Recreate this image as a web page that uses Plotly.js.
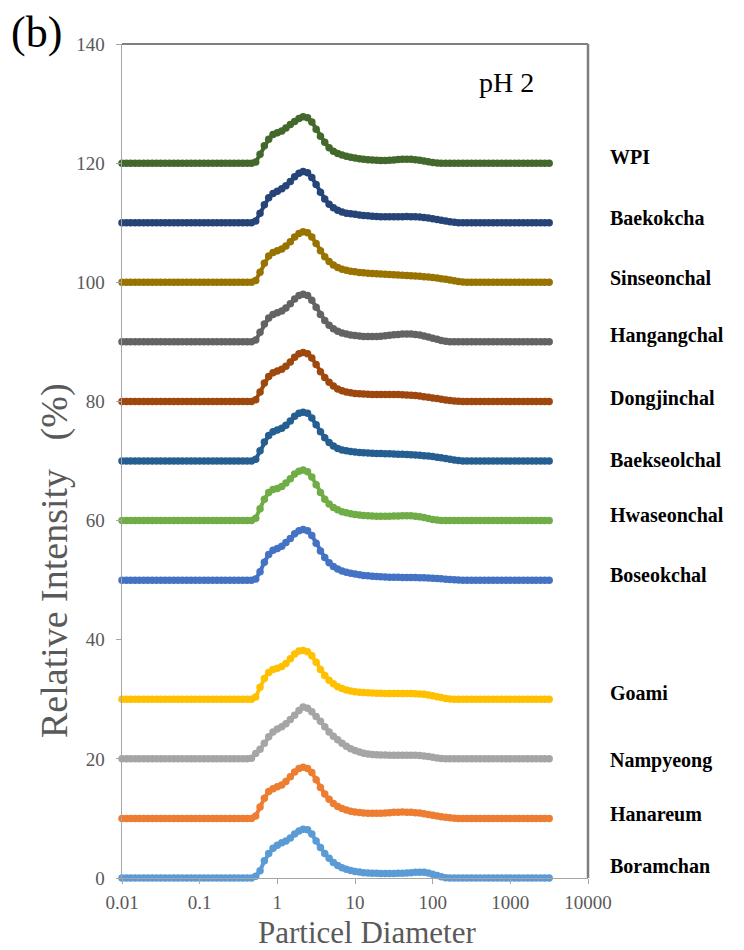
<!DOCTYPE html>
<html>
<head>
<meta charset="utf-8">
<script src="https://cdn.plot.ly/plotly-3.0.1.min.js"></script>
<style>html,body{margin:0;padding:0;background:#fff;}#chart{width:744px;height:950px;}</style>
</head>
<body>
<div id="chart"></div>
<script>
// Particle diameter grid (µm), 18 bins per decade from 0.01 to 3162
const diameter = [
  0.01,0.0114,0.0129,0.0147,0.0167,0.019,0.0215,0.0245,0.0278,0.0316,
  0.0359,0.0408,0.0464,0.0527,0.0599,0.0681,0.0774,0.088,0.1,0.114,
  0.129,0.147,0.167,0.19,0.215,0.245,0.278,0.316,0.359,0.408,
  0.464,0.527,0.599,0.681,0.774,0.88,1,1.14,1.29,1.47,
  1.67,1.9,2.15,2.45,2.78,3.16,3.59,4.08,4.64,5.27,
  5.99,6.81,7.74,8.8,10,11.4,12.9,14.7,16.7,19,
  21.5,24.5,27.8,31.6,35.9,40.8,46.4,52.7,59.9,68.1,
  77.4,88,100,114,129,147,167,190,215,245,
  278,316,359,408,464,527,599,681,774,880,
  1000,1140,1290,1470,1670,1900,2150,2450,2780,3162
];

const sampleNames = ["Boramchan","Hanareum","Nampyeong","Goami","Boseokchal","Hwaseonchal",
  "Baekseolchal","Dongjinchal","Hangangchal","Sinseonchal","Baekokcha","WPI"];
const sampleOffsets = [0,10,20,30,50,60,70,80,90,100,110,120];

const boramchan = [
  0,0,0,0,0,0,0,0,0,0, 0,0,0,0,0,0,0,0,0,0, 0,0,0,0,0,0,0,0,0,0,
  0,0.3,1.2,2.9,4.1,5.0,5.5,5.9,6.2,6.7,
  7.4,7.9,8.2,8.1,7.4,6.2,5.1,4.1,3.3,2.6,
  2.1,1.7,1.45,1.25,1.1,1.0,0.9,0.85,0.8,0.78,
  0.76,0.75,0.75,0.76,0.78,0.8,0.85,0.9,0.95,0.97,
  0.95,0.85,0.65,0.4,0.2,0.05,0,0,0,0,
  0,0,0,0,0,0,0,0,0,0, 0,0,0,0,0,0,0,0,0,0
];
const hanareum = [
  0,0,0,0,0,0,0,0,0,0, 0,0,0,0,0,0,0,0,0,0, 0,0,0,0,0,0,0,0,0,0,
  0,0.4,1.9,3.4,4.5,5.0,5.3,5.6,6.2,7.0,
  7.8,8.4,8.6,8.4,7.7,6.5,5.2,4.1,3.2,2.5,
  2.0,1.65,1.4,1.22,1.1,1.0,0.93,0.88,0.86,0.86,
  0.88,0.92,0.97,1.02,1.05,1.06,1.05,1.02,0.97,0.9,
  0.8,0.68,0.55,0.42,0.3,0.19,0.1,0.04,0,0,
  0,0,0,0,0,0,0,0,0,0, 0,0,0,0,0,0,0,0,0,0
];
const nampyeong = [
  0,0,0,0,0,0,0,0,0,0, 0,0,0,0,0,0,0,0,0,0, 0,0,0,0,0,0,0,0,0,0,
  0.1,0.9,1.6,2.6,3.7,4.5,5.0,5.4,5.9,6.6,
  7.3,8.1,8.7,8.5,7.9,7.1,6.3,5.4,4.5,3.8,
  3.2,2.6,2.1,1.7,1.4,1.15,0.95,0.82,0.74,0.68,
  0.65,0.63,0.62,0.62,0.62,0.62,0.62,0.61,0.59,0.55,
  0.48,0.38,0.27,0.16,0.07,0.02,0,0,0,0,
  0,0,0,0,0,0,0,0,0,0, 0,0,0,0,0,0,0,0,0,0
];
const goami = [
  0,0,0,0,0,0,0,0,0,0, 0,0,0,0,0,0,0,0,0,0, 0,0,0,0,0,0,0,0,0,0,
  0,0.4,2.0,3.5,4.5,5.0,5.2,5.5,6.0,6.8,
  7.6,8.1,8.2,8.0,7.3,6.2,5.0,4.0,3.2,2.6,
  2.1,1.8,1.55,1.4,1.28,1.2,1.13,1.08,1.04,1.02,
  1.0,0.98,0.97,0.97,0.97,0.97,0.97,0.96,0.94,0.9,
  0.83,0.72,0.58,0.43,0.28,0.15,0.06,0,0,0,
  0,0,0,0,0,0,0,0,0,0, 0,0,0,0,0,0,0,0,0,0
];
const boseokchal = [
  0,0,0,0,0,0,0,0,0,0, 0,0,0,0,0,0,0,0,0,0, 0,0,0,0,0,0,0,0,0,0,
  0,0.2,1.4,3.0,4.3,5.0,5.3,5.7,6.3,7.0,
  7.8,8.3,8.5,8.3,7.5,6.2,4.9,3.8,2.9,2.3,
  1.85,1.55,1.32,1.15,1.02,0.9,0.8,0.72,0.66,0.6,
  0.56,0.52,0.5,0.48,0.47,0.46,0.45,0.44,0.43,0.42,
  0.4,0.37,0.33,0.28,0.22,0.16,0.1,0.05,0.01,0,
  0,0,0,0,0,0,0,0,0,0, 0,0,0,0,0,0,0,0,0,0
];
const hwaseonchal = [
  0,0,0,0,0,0,0,0,0,0, 0,0,0,0,0,0,0,0,0,0, 0,0,0,0,0,0,0,0,0,0,
  0,0.4,2.0,3.6,4.7,5.2,5.4,5.7,6.3,7.0,
  7.8,8.3,8.5,8.2,7.3,6.0,4.7,3.6,2.8,2.2,
  1.8,1.5,1.3,1.15,1.03,0.93,0.85,0.8,0.76,0.73,
  0.72,0.72,0.73,0.75,0.77,0.79,0.8,0.79,0.74,0.64,
  0.5,0.34,0.19,0.08,0.02,0,0,0,0,0,
  0,0,0,0,0,0,0,0,0,0, 0,0,0,0,0,0,0,0,0,0
];
const baekseolchal = [
  0,0,0,0,0,0,0,0,0,0, 0,0,0,0,0,0,0,0,0,0, 0,0,0,0,0,0,0,0,0,0,
  0,0.3,1.7,3.2,4.3,4.9,5.2,5.5,6.0,6.7,
  7.5,8.0,8.2,8.0,7.2,6.1,4.9,3.9,3.1,2.5,
  2.1,1.85,1.7,1.58,1.5,1.43,1.38,1.34,1.3,1.27,
  1.24,1.22,1.2,1.18,1.15,1.12,1.08,1.04,1.0,0.95,
  0.89,0.82,0.74,0.64,0.53,0.41,0.29,0.18,0.08,0.02,
  0,0,0,0,0,0,0,0,0,0, 0,0,0,0,0,0,0,0,0,0
];
const dongjinchal = [
  0,0,0,0,0,0,0,0,0,0, 0,0,0,0,0,0,0,0,0,0, 0,0,0,0,0,0,0,0,0,0,
  0,0.3,1.6,3.1,4.2,4.8,5.1,5.4,5.9,6.6,
  7.4,8.0,8.2,8.0,7.3,6.2,5.0,4.0,3.2,2.6,
  2.1,1.8,1.6,1.45,1.35,1.28,1.23,1.2,1.18,1.17,
  1.17,1.17,1.17,1.17,1.16,1.14,1.1,1.05,0.98,0.9,
  0.8,0.7,0.59,0.48,0.37,0.26,0.16,0.08,0.02,0,
  0,0,0,0,0,0,0,0,0,0, 0,0,0,0,0,0,0,0,0,0
];
const hangangchal = [
  0,0,0,0,0,0,0,0,0,0, 0,0,0,0,0,0,0,0,0,0, 0,0,0,0,0,0,0,0,0,0,
  0,0.3,1.6,3.0,4.0,4.6,4.9,5.2,5.7,6.4,
  7.2,7.8,8.0,7.8,7.0,5.8,4.6,3.6,2.8,2.2,
  1.8,1.5,1.3,1.15,1.05,0.97,0.92,0.9,0.9,0.92,
  0.96,1.02,1.1,1.18,1.25,1.3,1.32,1.3,1.24,1.14,
  1.0,0.82,0.62,0.42,0.24,0.1,0.02,0,0,0,
  0,0,0,0,0,0,0,0,0,0, 0,0,0,0,0,0,0,0,0,0
];
const sinseonchal = [
  0,0,0,0,0,0,0,0,0,0, 0,0,0,0,0,0,0,0,0,0, 0,0,0,0,0,0,0,0,0,0,
  0,0.3,1.7,3.2,4.4,5.0,5.3,5.6,6.1,6.8,
  7.6,8.2,8.5,8.3,7.6,6.5,5.3,4.3,3.5,2.9,
  2.5,2.2,2.0,1.85,1.75,1.65,1.58,1.52,1.47,1.43,
  1.39,1.35,1.31,1.27,1.23,1.19,1.15,1.1,1.05,1.0,
  0.94,0.87,0.79,0.7,0.6,0.49,0.37,0.25,0.14,0.06,
  0,0,0,0,0,0,0,0,0,0, 0,0,0,0,0,0,0,0,0,0
];
const baekokcha = [
  0,0,0,0,0,0,0,0,0,0, 0,0,0,0,0,0,0,0,0,0, 0,0,0,0,0,0,0,0,0,0,
  0,0.3,1.6,3.0,4.2,4.9,5.3,5.7,6.2,6.9,
  7.7,8.3,8.6,8.4,7.6,6.4,5.1,4.0,3.1,2.5,
  2.1,1.8,1.6,1.5,1.4,1.3,1.2,1.15,1.1,1.05,
  1.02,1.0,1.0,1.0,1.0,1.02,1.03,1.02,1.0,0.95,
  0.88,0.78,0.66,0.52,0.4,0.27,0.15,0.06,0,0,
  0,0,0,0,0,0,0,0,0,0, 0,0,0,0,0,0,0,0,0,0
];
const wpi = [
  0,0,0,0,0,0,0,0,0,0, 0,0,0,0,0,0,0,0,0,0, 0,0,0,0,0,0,0,0,0,0,
  0,0.2,1.5,2.9,4.0,4.8,5.1,5.4,5.9,6.5,
  7.0,7.5,7.8,7.6,6.9,5.7,4.5,3.5,2.6,2.0,
  1.6,1.35,1.15,1.0,0.85,0.75,0.65,0.58,0.52,0.48,
  0.45,0.45,0.48,0.53,0.6,0.65,0.67,0.65,0.58,0.47,
  0.35,0.22,0.12,0.04,0,0,0,0,0,0,
  0,0,0,0,0,0,0,0,0,0, 0,0,0,0,0,0,0,0,0,0
];
const sampleValues = [boramchan,hanareum,nampyeong,goami,boseokchal,hwaseonchal,
  baekseolchal,dongjinchal,hangangchal,sinseonchal,baekokcha,wpi];

const xTickVals = [0.01,0.1,1,10,100,1000,10000];
const xTickText = ["0.01","0.1","1","10","100","1000","10000"];
const yTickVals = [0,20,40,60,80,100,120,140];

// ---- styling ----
const colors = ["#5B9BD5","#ED7D31","#A5A5A5","#FFC000","#4472C4","#70AD47",
  "#255E91","#9E480E","#636363","#997300","#264478","#43682B"];
const labelDy = [2.0,0.8,-0.3,1.0,0.8,1.0,0.2,0.5,1.0,0.7,0.8,1.0];

const serif = "Liberation Serif";
const traces = sampleValues.map((vals, k) => ({
  type: "scatter",
  mode: "lines+markers",
  x: diameter,
  y: vals.map(v => v + sampleOffsets[k]),
  name: sampleNames[k],
  cliponaxis: false,
  line: {color: colors[k], width: 4},
  marker: {color: colors[k], size: 7.5, line: {width: 0}},
  hoverinfo: "skip"
}));

const annotations = sampleNames.map((nm, k) => ({
  text: "<b>" + nm + "</b>",
  xref: "paper", yref: "y",
  x: (608 - 122) / 466, xanchor: "left",
  y: sampleOffsets[k] + labelDy[k], yanchor: "middle",
  showarrow: false,
  font: {family: serif, size: 20, color: "#000"}
}));
annotations.push(
  {text: "(b)", xref: "paper", yref: "paper", x: (9 - 122) / 466, xanchor: "left",
   y: (878 - 32) / 834, yanchor: "middle", showarrow: false,
   font: {family: serif, size: 44, color: "#000"}},
  {text: "pH 2", xref: "paper", yref: "paper", x: (506 - 122) / 466, xanchor: "center",
   y: (878 - 82) / 834, yanchor: "middle", showarrow: false,
   font: {family: serif, size: 28, color: "#000"}},
  {text: "Relative Intensity \u00a0\u00a0(%)", xref: "paper", yref: "paper", x: (55 - 122) / 466,
   xanchor: "center", y: (878 - 561) / 834, yanchor: "middle", textangle: -90,
   showarrow: false, font: {family: serif, size: 38, color: "#595959"}},
  {text: "Particel Diameter", xref: "paper", yref: "paper", x: (367 - 122) / 466,
   xanchor: "center", y: (878 - 932) / 834, yanchor: "middle", showarrow: false,
   font: {family: serif, size: 31, color: "#595959"}}
);

const bad = sampleValues.findIndex(a => a.length !== diameter.length);
if (bad >= 0) annotations.push({text: "LEN ERR " + sampleNames[bad] + " " + sampleValues[bad].length,
  xref: "paper", yref: "paper", x: 0.5, y: 0.5, showarrow: false, font: {size: 30, color: "red"}});

const layout = {
  width: 744, height: 950,
  margin: {l: 122, r: 156, t: 44, b: 72, pad: 0},
  paper_bgcolor: "#fff", plot_bgcolor: "#fff",
  showlegend: false,
  font: {family: serif},
  xaxis: {
    type: "log", range: [-2, 4], tickvals: xTickVals, ticktext: xTickText,
    ticks: "outside", ticklen: 5, tickcolor: "#a6a6a6", tickwidth: 1,
    showline: true, linecolor: "#a6a6a6", linewidth: 1,
    showgrid: false, zeroline: false, ticklabelstandoff: 2,
    tickfont: {family: serif, size: 19, color: "#595959"}
  },
  yaxis: {
    range: [0, 140], tickvals: yTickVals,
    ticks: "outside", ticklen: 5, tickcolor: "#a6a6a6", tickwidth: 1,
    showline: true, linecolor: "#a6a6a6", linewidth: 1.5,
    showgrid: false, zeroline: false, ticklabelstandoff: 7,
    tickfont: {family: serif, size: 19, color: "#595959"}
  },
  shapes: [
    {type: "line", xref: "paper", yref: "paper", x0: 0, x1: 1, y0: 1, y1: 1,
     line: {color: "#7f7f7f", width: 2}},
    {type: "line", xref: "paper", yref: "paper", x0: 1, x1: 1, y0: 0, y1: 1,
     line: {color: "#7f7f7f", width: 2.5}}
  ],
  annotations: annotations
};

Plotly.newPlot("chart", traces, layout, {displayModeBar: false, staticPlot: true});
</script>
</body>
</html>
